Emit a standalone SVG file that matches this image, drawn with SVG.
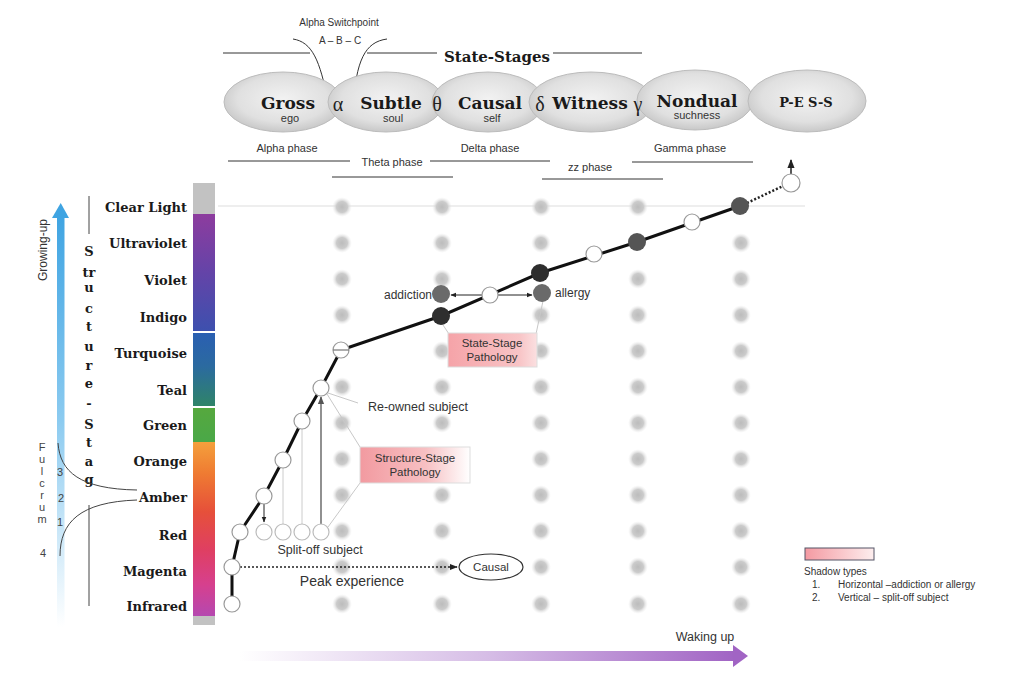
<svg xmlns="http://www.w3.org/2000/svg" width="1024" height="674" viewBox="0 0 1024 674">
<defs>
<style>
.ser{font-family:"DejaVu Serif","Liberation Serif",serif;font-weight:bold;fill:#1a1a1a}
.san{font-family:"Liberation Sans",Arial,sans-serif;fill:#333}
.lvl{font-family:"DejaVu Serif","Liberation Serif",serif;font-weight:bold;font-size:13px;fill:#1a1a1a;text-anchor:end}
.gk{font-family:"Liberation Serif",serif;font-size:20px;fill:#222;text-anchor:middle}
.ph{font-family:"Liberation Sans",Arial,sans-serif;font-size:11px;fill:#333;text-anchor:middle}
.ln{stroke:#333;stroke-width:1;fill:none}
.wc{fill:#fff;stroke:#999;stroke-width:1.2}
.lc{fill:#fff;stroke:#bbb;stroke-width:1.2}
.gl{stroke:#c8c8c8;stroke-width:1;fill:none}
.vl{font-family:"DejaVu Serif","Liberation Serif",serif;font-weight:bold;font-size:13px;fill:#1a1a1a;text-anchor:middle}
.fl{font-family:"Liberation Sans",Arial,sans-serif;font-size:11px;fill:#444;text-anchor:middle}
.tt{font-size:17px;text-anchor:middle}
</style>
<radialGradient id="ell" cx="50%" cy="45%" r="55%">
<stop offset="0" stop-color="#f2f2f2"/><stop offset="0.7" stop-color="#e0e0e0"/><stop offset="1" stop-color="#c8c8c8"/>
</radialGradient>
<radialGradient id="dot">
<stop offset="0" stop-color="#bcbcbc"/><stop offset="0.55" stop-color="#cbcbcb"/><stop offset="1" stop-color="#ececec" stop-opacity="0"/>
</radialGradient>
<linearGradient id="purp" x1="0" y1="0" x2="0" y2="1">
<stop offset="0" stop-color="#8d3c9e"/><stop offset="0.5" stop-color="#6444a8"/><stop offset="1" stop-color="#3d50ae"/>
</linearGradient>
<linearGradient id="blte" x1="0" y1="0" x2="0" y2="1">
<stop offset="0" stop-color="#2a5fb2"/><stop offset="0.45" stop-color="#2b6aa0"/><stop offset="1" stop-color="#2f8468"/>
</linearGradient>
<linearGradient id="grn" x1="0" y1="0" x2="0" y2="1">
<stop offset="0" stop-color="#56a83e"/><stop offset="1" stop-color="#4aa848"/>
</linearGradient>
<linearGradient id="warm" x1="0" y1="0" x2="0" y2="1">
<stop offset="0" stop-color="#f4a03c"/><stop offset="0.18" stop-color="#ef7b32"/><stop offset="0.4" stop-color="#e6503a"/><stop offset="0.62" stop-color="#df3f62"/><stop offset="0.82" stop-color="#d6408e"/><stop offset="1" stop-color="#b548b0"/>
</linearGradient>
<linearGradient id="blue" x1="0" y1="0" x2="0" y2="1">
<stop offset="0" stop-color="#3fa4e2"/><stop offset="0.5" stop-color="#8ccbf0"/><stop offset="1" stop-color="#ffffff"/>
</linearGradient>
<linearGradient id="purar" x1="0" y1="0" x2="1" y2="0">
<stop offset="0" stop-color="#ffffff"/><stop offset="0.5" stop-color="#d6bde6"/><stop offset="1" stop-color="#a164c4"/>
</linearGradient>
<linearGradient id="pink" x1="0" y1="0" x2="1" y2="0">
<stop offset="0" stop-color="#f29aa0"/><stop offset="0.6" stop-color="#f7c0c3"/><stop offset="1" stop-color="#ffffff"/>
</linearGradient>
<linearGradient id="pink2" x1="0" y1="0" x2="1" y2="0">
<stop offset="0" stop-color="#f5a3a8"/><stop offset="0.8" stop-color="#f8c4c6"/><stop offset="1" stop-color="#fbe0e1"/>
</linearGradient>
<linearGradient id="leg" x1="0" y1="0" x2="1" y2="0">
<stop offset="0" stop-color="#f49aa2"/><stop offset="1" stop-color="#fdeeee"/>
</linearGradient>
<marker id="ah" viewBox="0 0 10 10" refX="9" refY="5" markerWidth="6" markerHeight="6" orient="auto">
<path d="M0,1 L10,5 L0,9 z" fill="#222"/>
</marker>
<marker id="ahg" viewBox="0 0 10 10" refX="9" refY="5" markerWidth="6" markerHeight="6" orient="auto">
<path d="M0,1 L10,5 L0,9 z" fill="#555"/>
</marker>
</defs>
<rect width="1024" height="674" fill="#fff"/>

<g id="header">
<line x1="223" y1="53" x2="310" y2="53" class="ln"/>
<line x1="367" y1="53" x2="437" y2="53" class="ln"/>
<line x1="553" y1="53" x2="642" y2="53" class="ln"/>
<text x="497" y="62" class="ser" font-size="15" text-anchor="middle">State-Stages</text>
<text x="339" y="26" class="san" font-size="10" text-anchor="middle">Alpha Switchpoint</text>
<text x="340" y="44" class="san" font-size="10" text-anchor="middle">A – B – C</text>
<path d="M293,39 C312,42 320,60 328,102" class="ln"/>
<path d="M387,39 C365,42 356,60 353,108" class="ln"/>
</g>

<g id="ellipses">
<g id="gross"><ellipse cx="283" cy="102" rx="59" ry="30" fill="url(#ell)" stroke="#bcbcbc"/>
<text x="288" y="109" class="ser tt">Gross</text>
<text x="290" y="122" class="san" font-size="11" text-anchor="middle">ego</text></g>
<g id="subtle"><ellipse cx="386" cy="102" rx="58" ry="30" fill="url(#ell)" stroke="#bcbcbc"/>
<text x="338" y="111" class="gk">α</text>
<text x="391" y="109" class="ser tt">Subtle</text>
<text x="393" y="122" class="san" font-size="11" text-anchor="middle">soul</text></g>
<g id="causal"><ellipse cx="488" cy="102" rx="56" ry="30" fill="url(#ell)" stroke="#bcbcbc"/>
<text x="437" y="111" class="gk">θ</text>
<text x="490" y="109" class="ser tt">Causal</text>
<text x="492" y="122" class="san" font-size="11" text-anchor="middle">self</text></g>
<g id="witness"><ellipse cx="591" cy="102" rx="62" ry="30" fill="url(#ell)" stroke="#bcbcbc"/>
<text x="540" y="111" class="gk">δ</text>
<text x="590" y="109" class="ser tt">Witness</text></g>
<g id="nondual"><ellipse cx="695" cy="100" rx="58" ry="30" fill="url(#ell)" stroke="#bcbcbc"/>
<text x="638" y="111" class="gk">γ</text>
<text x="697" y="107" class="ser tt">Nondual</text>
<text x="697" y="119" class="san" font-size="11" text-anchor="middle">suchness</text></g>
<g id="pess"><ellipse cx="807" cy="101" rx="59" ry="31" fill="url(#ell)" stroke="#bcbcbc"/>
<text x="806" y="107" class="ser" font-size="13" text-anchor="middle">P-E S-S</text></g>
</g>

<g id="phases">
<text x="287" y="152" class="ph">Alpha phase</text>
<text x="392" y="166" class="ph">Theta phase</text>
<text x="490" y="152" class="ph">Delta phase</text>
<text x="590" y="171" class="ph">zz phase</text>
<text x="690" y="152" class="ph">Gamma phase</text>
<line x1="228" y1="161" x2="350" y2="161" class="ln"/>
<line x1="430" y1="161" x2="550" y2="161" class="ln"/>
<line x1="332" y1="177" x2="453" y2="177" class="ln"/>
<line x1="542" y1="179" x2="663" y2="179" class="ln"/>
<line x1="632" y1="162" x2="753" y2="162" class="ln"/>
</g>

<g id="growing-up">
<rect x="57" y="215" width="7.5" height="412" fill="url(#blue)"/>
<polygon points="52,218 60.7,203 69,218" fill="#3fa4e2"/>
<text transform="translate(47,250) rotate(-90)" class="san" font-size="12" text-anchor="middle" fill="#444">Growing-up</text>
</g>

<g id="structure-stage">
<line x1="89" y1="196" x2="89" y2="234" stroke="#444"/>
<line x1="89" y1="505" x2="89" y2="606" stroke="#444"/>
<text x="89" y="256" class="vl">S</text>
<text x="89" y="277" class="vl">tr</text>
<text x="89" y="292" class="vl">u</text>
<text x="89" y="313" class="vl">c</text>
<text x="89" y="331" class="vl">t</text>
<text x="89" y="351" class="vl">u</text>
<text x="89" y="370" class="vl">r</text>
<text x="89" y="388" class="vl">e</text>
<text x="89" y="408" class="vl">-</text>
<text x="89" y="429" class="vl">S</text>
<text x="89" y="447" class="vl">t</text>
<text x="89" y="466" class="vl">a</text>
<text x="89" y="484" class="vl">g</text>
</g>

<g id="fulcrum">
<text x="42" y="451" class="fl">F</text>
<text x="42" y="463" class="fl">u</text>
<text x="42" y="475" class="fl">l</text>
<text x="42" y="487" class="fl">c</text>
<text x="42" y="499" class="fl">r</text>
<text x="42" y="511" class="fl">u</text>
<text x="42" y="523" class="fl">m</text>
<text x="60" y="476" class="fl">3</text>
<text x="61" y="502" class="fl">2</text>
<text x="60" y="526" class="fl">1</text>
<text x="43" y="557" class="fl">4</text>
<path d="M58,443 C60,472 80,489 137,490" stroke="#444" fill="none"/>
<path d="M60,556 C60,522 80,502 137,500" stroke="#444" fill="none"/>
</g>

<g id="levels">
<text x="187" y="212" class="lvl">Clear Light</text>
<text x="187" y="248" class="lvl">Ultraviolet</text>
<text x="187" y="285" class="lvl">Violet</text>
<text x="187" y="322" class="lvl">Indigo</text>
<text x="187" y="358" class="lvl">Turquoise</text>
<text x="187" y="395" class="lvl">Teal</text>
<text x="187" y="430" class="lvl">Green</text>
<text x="187" y="466" class="lvl">Orange</text>
<text x="187" y="502" class="lvl">Amber</text>
<text x="187" y="540" class="lvl">Red</text>
<text x="187" y="576" class="lvl">Magenta</text>
<text x="187" y="611" class="lvl">Infrared</text>
</g>

<g id="colorbar">
<rect x="193" y="183" width="22" height="31" fill="#c2c2c2"/>
<rect x="193" y="214" width="22" height="117" fill="url(#purp)"/>
<rect x="193" y="333" width="22" height="73" fill="url(#blte)"/>
<rect x="193" y="408" width="22" height="34" fill="url(#grn)"/>
<rect x="193" y="442" width="22" height="174" fill="url(#warm)"/>
<rect x="193" y="616" width="22" height="9" fill="#c2c2c2"/>
</g>

<line x1="218" y1="206" x2="805" y2="206" stroke="#ddd" stroke-width="1"/>

<g id="grid" fill="url(#dot)">
<circle cx="342" cy="207" r="10"/><circle cx="342" cy="243" r="10"/><circle cx="342" cy="279" r="10"/><circle cx="342" cy="315" r="10"/><circle cx="342" cy="387" r="10"/><circle cx="342" cy="423" r="10"/><circle cx="342" cy="459" r="10"/><circle cx="342" cy="495" r="10"/><circle cx="342" cy="531" r="10"/><circle cx="342" cy="567" r="10"/><circle cx="342" cy="604" r="10"/>
<circle cx="442" cy="207" r="10"/><circle cx="442" cy="243" r="10"/><circle cx="442" cy="279" r="10"/><circle cx="442" cy="351" r="10"/><circle cx="442" cy="387" r="10"/><circle cx="442" cy="423" r="10"/><circle cx="442" cy="459" r="10"/><circle cx="442" cy="495" r="10"/><circle cx="442" cy="531" r="10"/><circle cx="442" cy="567" r="10"/><circle cx="442" cy="604" r="10"/>
<circle cx="541" cy="207" r="10"/><circle cx="541" cy="243" r="10"/><circle cx="541" cy="315" r="10"/><circle cx="541" cy="351" r="10"/><circle cx="541" cy="387" r="10"/><circle cx="541" cy="423" r="10"/><circle cx="541" cy="459" r="10"/><circle cx="541" cy="495" r="10"/><circle cx="541" cy="531" r="10"/><circle cx="541" cy="567" r="10"/><circle cx="541" cy="604" r="10"/>
<circle cx="638" cy="207" r="10"/><circle cx="638" cy="279" r="10"/><circle cx="638" cy="315" r="10"/><circle cx="638" cy="351" r="10"/><circle cx="638" cy="387" r="10"/><circle cx="638" cy="423" r="10"/><circle cx="638" cy="459" r="10"/><circle cx="638" cy="495" r="10"/><circle cx="638" cy="531" r="10"/><circle cx="638" cy="567" r="10"/><circle cx="638" cy="604" r="10"/>
<circle cx="741" cy="243" r="10"/><circle cx="741" cy="279" r="10"/><circle cx="741" cy="315" r="10"/><circle cx="741" cy="351" r="10"/><circle cx="741" cy="387" r="10"/><circle cx="741" cy="423" r="10"/><circle cx="741" cy="459" r="10"/><circle cx="741" cy="495" r="10"/><circle cx="741" cy="531" r="10"/><circle cx="741" cy="567" r="10"/><circle cx="741" cy="604" r="10"/>
</g>

<g id="state-stage-pathology">
<line x1="441" y1="322" x2="449" y2="334" class="gl"/>
<line x1="543" y1="301" x2="536" y2="334" class="gl"/>
<rect x="448" y="333" width="89" height="34" fill="url(#pink2)" stroke="#ddd"/>
<text x="492" y="347" class="san" font-size="11.5" text-anchor="middle">State-Stage</text>
<text x="492" y="361" class="san" font-size="11.5" text-anchor="middle">Pathology</text>
</g>
<g id="structure-stage-pathology">
<line x1="327" y1="394" x2="360" y2="447" class="gl"/>
<line x1="328" y1="527" x2="360" y2="483" class="gl"/>
<line x1="328" y1="393" x2="358" y2="403" class="gl"/>
<rect x="360" y="447" width="110" height="36" fill="url(#pink)" stroke="#ddd"/>
<text x="415" y="462" class="san" font-size="11.5" text-anchor="middle">Structure-Stage</text>
<text x="415" y="476" class="san" font-size="11.5" text-anchor="middle">Pathology</text>
</g>

<g id="connectors">
<polyline points="232,604 232,567 240,532 264,496 283,460 302,421 321,388 341,350 441,316 540,273 637,242 740,206" fill="none" stroke="#111" stroke-width="3"/>
<line x1="747" y1="203" x2="783" y2="186" stroke="#222" stroke-width="2.5" stroke-dasharray="2,2"/>
<line x1="791" y1="174" x2="791" y2="160" stroke="#222" stroke-width="1.5" marker-end="url(#ah)"/>
<line x1="283" y1="468" x2="283" y2="524" stroke="#ccc"/>
<line x1="302" y1="429" x2="302" y2="524" stroke="#ccc"/>
<line x1="264" y1="504" x2="264" y2="522" stroke="#222" marker-end="url(#ah)"/>
<line x1="321" y1="524" x2="321" y2="397" stroke="#555" stroke-width="1.3" marker-end="url(#ahg)"/>
<line x1="482" y1="295" x2="451" y2="295" stroke="#222" marker-end="url(#ah)"/>
<line x1="498" y1="295" x2="532" y2="295" stroke="#222" marker-end="url(#ah)"/>
<line x1="240" y1="567" x2="457" y2="567" stroke="#222" stroke-width="1.3" stroke-dasharray="2,2" marker-end="url(#ah)"/>
</g>

<g id="path-nodes">
<circle cx="232" cy="604" r="8" class="wc"/>
<circle cx="232" cy="567" r="8" class="wc"/>
<circle cx="264" cy="532" r="8" class="lc"/>
<circle cx="283" cy="532" r="8" class="lc"/>
<circle cx="302" cy="532" r="8" class="lc"/>
<circle cx="321" cy="532" r="8" class="lc"/>
<circle cx="240" cy="532" r="8" class="wc"/>
<circle cx="264" cy="496" r="8" class="wc"/>
<circle cx="283" cy="460" r="8" class="wc"/>
<circle cx="302" cy="421" r="8" class="wc"/>
<circle cx="321" cy="388" r="8" class="wc"/>
<circle cx="341" cy="350" r="8" class="wc"/>
<line x1="333" y1="350" x2="349" y2="350" stroke="#777" stroke-width="1.2"/>
<circle cx="441" cy="316" r="9" fill="#2e2e2e"/>
<circle cx="441" cy="294" r="9" fill="#6a6a6a"/>
<circle cx="490" cy="295" r="8" class="wc"/>
<circle cx="540" cy="273" r="9" fill="#2e2e2e"/>
<circle cx="542" cy="293" r="9" fill="#6a6a6a"/>
<circle cx="594" cy="254" r="8" class="wc"/>
<circle cx="637" cy="242" r="9" fill="#555"/>
<circle cx="692" cy="222" r="8" class="wc"/>
<circle cx="740" cy="206" r="9" fill="#555"/>
<circle cx="791" cy="183" r="9" class="wc"/>
</g>

<g id="labels">
<text x="432" y="299" class="san" font-size="12" text-anchor="end">addiction</text>
<text x="555" y="297" class="san" font-size="12">allergy</text>
<text x="418" y="411" class="san" font-size="12.5" text-anchor="middle">Re-owned subject</text>
<text x="320" y="554" class="san" font-size="12.5" text-anchor="middle">Split-off subject</text>
<text x="352" y="586" class="san" font-size="14" text-anchor="middle">Peak experience</text>
</g>
<g id="causal-peak">
<ellipse cx="491" cy="567" rx="32" ry="13" fill="#fff" stroke="#333" stroke-width="1.2"/>
<text x="491" y="571" class="san" font-size="11.5" text-anchor="middle">Causal</text>
</g>

<g id="waking-up">
<rect x="240" y="651" width="495" height="10" fill="url(#purar)"/>
<polygon points="733,645 748,656 733,667" fill="#a164c4"/>
<text x="705" y="641" class="san" font-size="12.5" text-anchor="middle">Waking up</text>
</g>

<g id="legend">
<rect x="805" y="548" width="69" height="12" fill="url(#leg)" stroke="#556"/>
<text x="804" y="575" class="san" font-size="10">Shadow types</text>
<text x="812" y="588" class="san" font-size="10">1.</text>
<text x="838" y="588" class="san" font-size="10">Horizontal –addiction or allergy</text>
<text x="812" y="601" class="san" font-size="10">2.</text>
<text x="838" y="601" class="san" font-size="10">Vertical – split-off subject</text>
</g>
</svg>
